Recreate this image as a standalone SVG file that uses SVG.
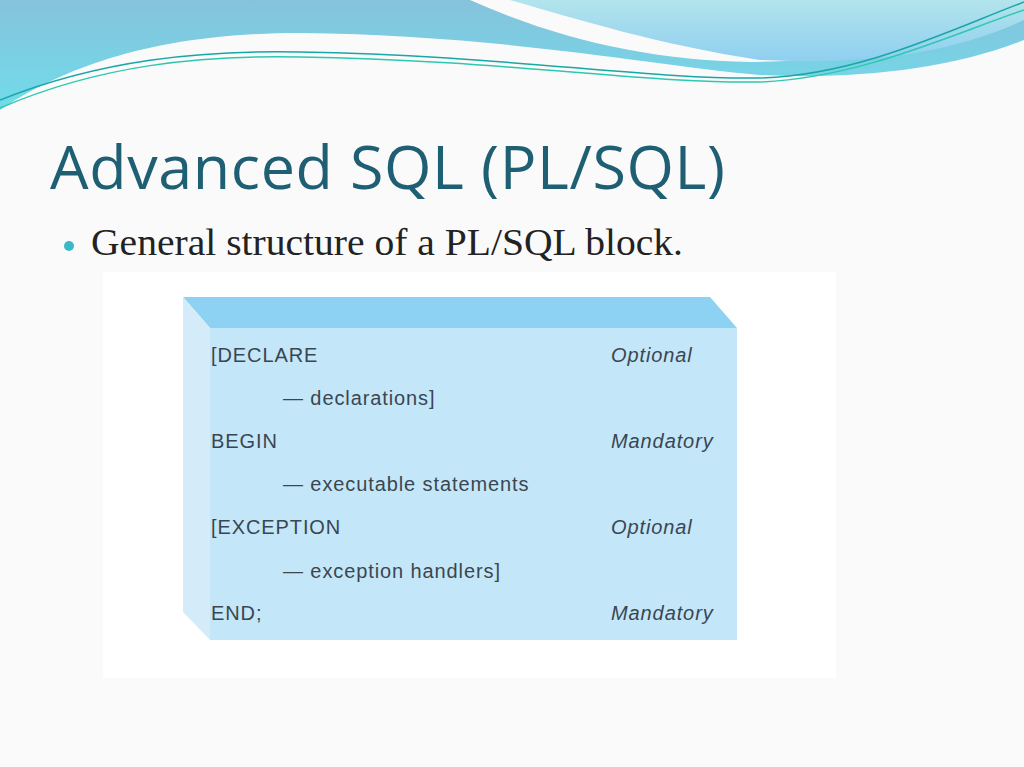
<svg xmlns="http://www.w3.org/2000/svg" width="1024" height="767" viewBox="0 0 1024 767">
<defs>
<linearGradient id="g1" x1="0" y1="0" x2="0" y2="1"><stop offset="0" stop-color="#86c3dc"/><stop offset="1" stop-color="#6fdcea"/></linearGradient>
<linearGradient id="g2" x1="0" y1="0" x2="0" y2="1"><stop offset="0" stop-color="#b2e4ec"/><stop offset="1" stop-color="#8fcff0"/></linearGradient>
<style>
.t{font-family:"Liberation Sans",Arial,sans-serif;font-size:20px;letter-spacing:0.9px;fill:#3a4650}
.i{font-style:italic}
</style>
</defs>
<rect width="1024" height="767" fill="#fafafa"/>
<g id="wave">
<path d="M0,0 H1024 V40 C950,70 850,80 760,75 C650,65 500,35 300,33 C150,33 60,70 0,110 Z" fill="url(#g1)"/>
<path d="M470,0 C560,40 650,60 750,62 C860,62 950,30 1024,0 Z" fill="#fafafa"/>
<path d="M510,0 H1024 V20 C950,55 860,65 760,60 C660,45 580,20 510,0 Z" fill="url(#g2)"/>
<path d="M0,100 C100,60 200,50 300,52 C500,55 650,80 760,78 C860,75 950,30 1024,2" fill="none" stroke="#1aa6a6" stroke-width="1.5"/>
<path d="M0,108 C100,65 200,55 300,57 C500,60 650,84 760,82 C860,78 950,35 1024,10" fill="none" stroke="#2ec8b0" stroke-width="1.5"/>
</g>
<text x="50" y="189" font-family="'Open Sans','Noto Sans',sans-serif" font-size="61" textLength="675" lengthAdjust="spacing" fill="#1f5f73">Advanced SQL (PL/SQL)</text>
<circle cx="69" cy="246" r="5" fill="#3bb8c8"/>
<text x="91" y="255" font-family="'Liberation Serif','Times New Roman',serif" font-size="37" textLength="592" lengthAdjust="spacingAndGlyphs" fill="#222">General structure of a PL/SQL block.</text>
<rect x="103" y="272" width="733" height="406" fill="#ffffff"/>
<g id="block">
<polygon points="183,297 710,297 737,328 210,328" fill="#8dd2f2"/>
<polygon points="183,297 210,328 210,640 183,612" fill="#d4ecf9"/>
<rect x="210" y="328" width="527" height="312" fill="#c4e6f9"/>
<text class="t" x="211" y="362">[DECLARE</text>
<text class="t i" x="611" y="362">Optional</text>
<text class="t" x="283" y="405">— declarations]</text>
<text class="t" x="211" y="448">BEGIN</text>
<text class="t i" x="611" y="448">Mandatory</text>
<text class="t" x="283" y="491">— executable statements</text>
<text class="t" x="211" y="534">[EXCEPTION</text>
<text class="t i" x="611" y="534">Optional</text>
<text class="t" x="283" y="578">— exception handlers]</text>
<text class="t" x="211" y="620">END;</text>
<text class="t i" x="611" y="620">Mandatory</text>
</g>
</svg>
